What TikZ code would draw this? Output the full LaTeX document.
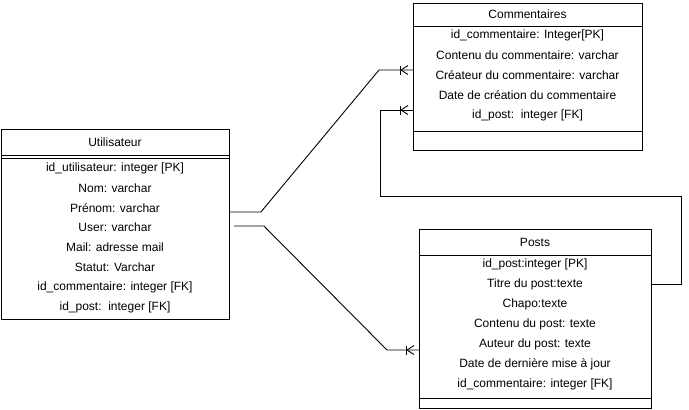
\documentclass[tikz,border=0pt]{standalone}
\usepackage{fontspec}
\setmainfont{Liberation Sans}
\usetikzlibrary{calc}
\begin{document}
\begin{tikzpicture}[x=1pt,y=-1pt,
  every node/.style={font=\fontsize{12}{14}\selectfont, inner sep=0pt},
  entity/.style={draw, line width=0.9pt, anchor=north west, fill=white},
  field/.style={anchor=center},
  link/.style={line width=0.9pt},
]
\useasboundingbox (0,0) rectangle (689,410);

% crow's foot (one-to-many) ending at a point on an entity's left side
\newcommand{\crowsfoot}[1]{%
  \draw[link] ($#1+(-13,-4.5)$) -- ($#1+(-13,4.5)$);
  \draw[link] ($#1+(-12,0)$) -- ($#1+(-5,-4.5)$);
  \draw[link] ($#1+(-12,0)$) -- ($#1+(-5,4.5)$);
}

% ---------- Utilisateur ----------
\node[entity, minimum width=228pt, minimum height=190pt] (U) at (1,129) {};
\draw[line width=0.9pt] (1,155.5) -- (229,155.5);
\draw[line width=0.9pt] (1,158) -- (229,158);
\node (Ut) at (115,142) {Utilisateur};
\node[field] (U1) at (115,168) {id\_utilisateur: integer [PK]};
\node[field] (U2) at (115,188) {Nom: varchar};
\node[field] (U3) at (115,208) {Prénom: varchar};
\node[field] (U4) at (115,227) {User: varchar};
\node[field] (U5) at (115,247) {Mail: adresse mail};
\node[field] (U6) at (115,267) {Statut: Varchar};
\node[field] (U7) at (115,287) {id\_commentaire: integer [FK]};
\node[field] (U8) at (115,307) {id\_post:\ \ integer [FK]};

% ---------- Commentaires ----------
\node[entity, minimum width=229pt, minimum height=147pt] (C) at (413,3) {};
\draw[line width=0.9pt] (413,26) -- (642,26);
\draw[line width=0.9pt] (413,131) -- (642,131);
\node (Ct) at (527.5,14.5) {Commentaires};
\node[field] (C1) at (527.5,35) {id\_commentaire: Integer[PK]};
\node[field] (C2) at (527.5,55) {Contenu du commentaire: varchar};
\node[field] (C3) at (527.5,75) {Créateur du commentaire: varchar};
\node[field] (C4) at (527.5,95) {Date de création du commentaire};
\node[field] (C5) at (527.5,115) {id\_post:\ \ integer [FK]};

% ---------- Posts ----------
\node[entity, minimum width=232pt, minimum height=179pt] (P) at (419,229) {};
\draw[line width=0.9pt] (419,255) -- (651,255);
\draw[line width=0.9pt] (419,398) -- (651,398);
\node (Pt) at (535,242) {Posts};
\node[field] (P1) at (535,264) {id\_post:integer [PK]};
\node[field] (P2) at (535,284) {Titre du post:texte};
\node[field] (P3) at (535,304) {Chapo:texte};
\node[field] (P4) at (535,324) {Contenu du post: texte};
\node[field] (P5) at (535,344) {Auteur du post: texte};
\node[field] (P6) at (535,364) {Date de dernière mise à jour};
\node[field] (P7) at (535,384) {id\_commentaire: integer [FK]};

% ---------- relations ----------
\coordinate (uc) at (U.east |- 0,212);
\coordinate (cu) at (C.west |- 0,70);
\draw[link] (uc) -- ++(31,0) -- (379,70) -- (cu);
\crowsfoot{(cu)}

\coordinate (up) at ($(U.east |- 0,226)+(4,0)$);
\coordinate (pu) at (P.west |- 0,350);
\draw[link] (up) -- ++(30,0) -- (387,350) -- (pu);
\crowsfoot{(pu)}

\coordinate (pc) at (P.east |- P2);
\coordinate (cp) at (C.west |- 0,110);
\draw[link] (pc) -- (681,284) -- (681,196) -- (380,196) -- (380,110) -- (cp);
\crowsfoot{(cp)}
\end{tikzpicture}
\end{document}
